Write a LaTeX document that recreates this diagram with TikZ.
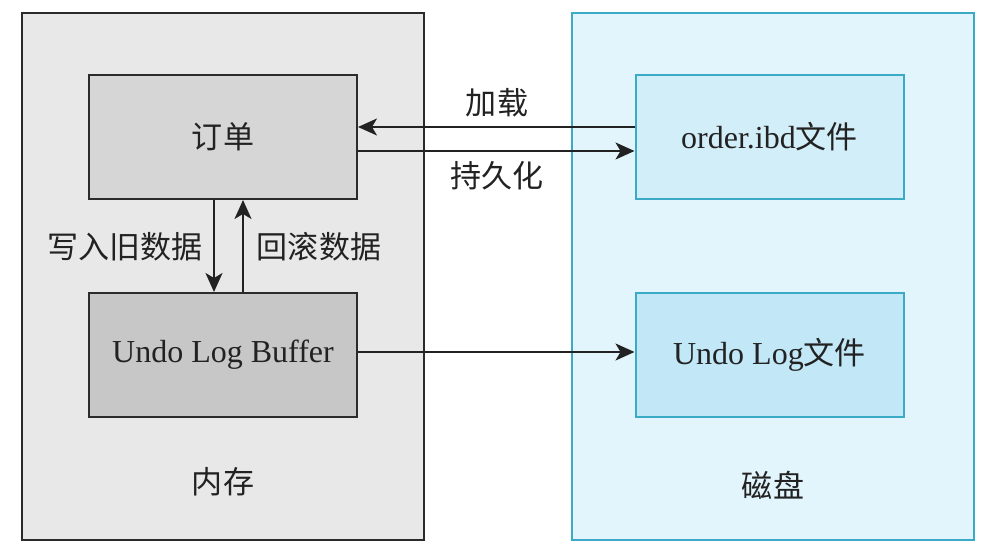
\documentclass[tikz,border=0pt]{standalone}
\usepackage{fontspec}
\setmainfont{Liberation Serif}
\newfontfamily\cjk[Scale=0.97]{Noto Sans CJK SC}
\usetikzlibrary{arrows.meta}
\definecolor{memfill}{HTML}{E8E8E8}
\definecolor{memline}{HTML}{2B2B2B}
\definecolor{orderfill}{HTML}{D6D6D6}
\definecolor{buffill}{HTML}{C7C7C7}
\definecolor{diskfill}{HTML}{E3F5FC}
\definecolor{diskline}{HTML}{3BAAC6}
\definecolor{ibdfill}{HTML}{D2EEF9}
\definecolor{undofill}{HTML}{C2E8F8}
\definecolor{ink}{HTML}{222222}
\begin{document}
\begin{tikzpicture}[x=1pt,y=-1pt,
  every node/.style={font=\fontsize{32}{38}\selectfont, text=ink},
  outerbox/.style={rectangle, line width=2pt, minimum width=402pt, minimum height=527pt, inner sep=0pt},
  innerbox/.style={rectangle, line width=2pt, minimum width=268pt, minimum height=124pt, inner sep=0pt},
  arr/.style={draw=ink, line width=1.8pt, -{Stealth[length=19pt, width=17pt, inset=5pt]}},
  lbl/.style={inner sep=0pt}
]
\useasboundingbox (0,0) rectangle (997,553);
\node[outerbox, draw=memline, fill=memfill] (mem) at (223,276.5) {};
\node[outerbox, draw=diskline, fill=diskfill] (disk) at (773,276.5) {};
\node[innerbox, draw=memline, fill=orderfill] (order) at (223,137) {\cjk 订单};
\node[innerbox, draw=memline, fill=buffill] (buf) at (223,355) {Undo Log Buffer};
\node[innerbox, draw=diskline, fill=ibdfill] (ibd) at (769.5,137) {order.ibd{\cjk 文件}};
\node[innerbox, draw=diskline, fill=undofill] (undo) at (769.5,355) {Undo Log{\cjk 文件}};
\node[lbl] (memlbl) at (223,482) {\cjk 内存};
\node[lbl] (disklbl) at (773,485) {\cjk 磁盘};
\draw[arr] ([yshift=10pt]ibd.west) -- ([yshift=10pt]order.east);
\draw[arr] ([yshift=-14pt]order.east) -- ([yshift=-14pt]ibd.west);
\draw[arr] ([xshift=-9pt]order.south) -- ([xshift=-9pt]buf.north);
\draw[arr] ([xshift=20pt]buf.north) -- ([xshift=20pt]order.south);
\draw[arr] ([yshift=3pt]buf.east) -- ([yshift=3pt]undo.west);
\node[lbl] (load) at (497,103) {\cjk 加载};
\node[lbl] (persist) at (497,176) {\cjk 持久化};
\node[lbl] (write) at (125,247) {\cjk 写入旧数据};
\node[lbl] (rollback) at (319,247) {\cjk 回滚数据};
\end{tikzpicture}
\end{document}
